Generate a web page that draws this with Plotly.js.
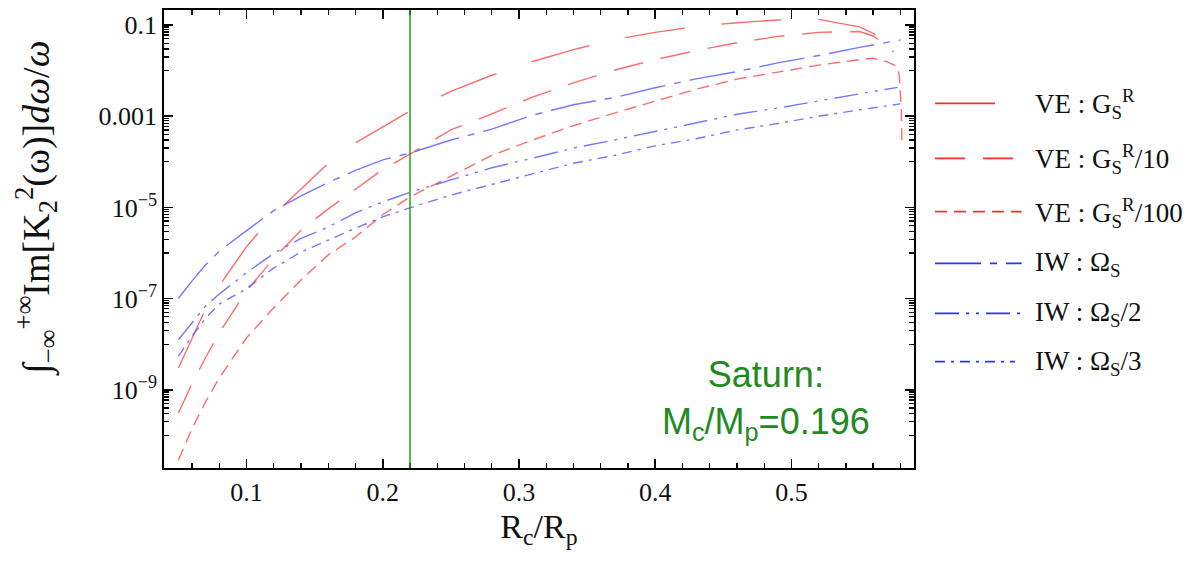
<!DOCTYPE html>
<html>
<head>
<meta charset="utf-8">
<script src="https://cdn.plot.ly/plotly-3.0.1.min.js"></script>
<style>html,body{margin:0;padding:0;background:#fff}#chart{width:1196px;height:564px}</style>
</head>
<body>
<div id="chart"></div>
<script>
// ---------- data ----------
const gridX = [0.05,0.06,0.07,0.08,0.10,0.12,0.14,0.16,0.18,0.20,0.22,0.25,0.28,0.31,0.34,0.37,0.40,0.43,0.46,0.49,0.52,0.55];

const veG_x = gridX.concat([0.56,0.57,0.575]);
const veG_y = [3.0e-9,1.38e-8,6.0e-8,1.9e-7,1.38e-6,6.9e-6,2.6e-5,9.3e-5,2.6e-4,5.9e-4,1.29e-3,3.5e-3,7.9e-3,0.0158,0.0288,0.0479,0.069,0.093,0.112,0.129,0.133,0.091,0.066,0.038,0.0257];

const veG10_x = gridX.concat([0.56,0.57,0.575]);
const veG10_y = [3.1e-10,1.38e-9,5.1e-9,1.78e-8,1.48e-7,7.6e-7,3.16e-6,9.3e-6,2.5e-5,6.8e-5,1.48e-4,5.0e-4,1.12e-3,2.63e-3,5.4e-3,0.0102,0.0174,0.0275,0.0407,0.0562,0.069,0.072,0.0575,0.0363,0.0257];

const veG100_x = gridX.concat([0.56,0.57,0.5776,0.5793,0.5800,0.5807,0.5812]);
const veG100_y = [2.9e-11,1.41e-10,5.5e-10,1.82e-9,1.38e-8,6.3e-8,2.57e-7,9.1e-7,2.24e-6,6.9e-6,1.70e-5,4.8e-5,1.38e-4,3.0e-4,6.2e-4,1.17e-3,2.14e-3,3.9e-3,6.5e-3,9.1e-3,0.0132,0.0174,0.0186,0.0158,0.0123,7.4e-3,3.7e-3,1.35e-3,2.1e-4];

const iwO_x = gridX.concat([0.58]);
const iwO_y = [1.02e-7,2.45e-7,5.5e-7,1.10e-6,3.1e-6,8.5e-6,1.78e-5,3.5e-5,6.5e-5,1.10e-4,1.55e-4,3.0e-4,5.2e-4,1.05e-3,1.78e-3,2.57e-3,4.2e-3,6.6e-3,9.5e-3,0.0148,0.0214,0.0324,0.0468];

const iwO2_x = gridX.concat([0.578]);
const iwO2_y = [1.26e-8,3.0e-8,6.9e-8,1.26e-7,3.7e-7,9.8e-7,2.09e-6,3.7e-6,7.6e-6,1.32e-5,2.14e-5,4.0e-5,7.4e-5,1.20e-4,2.0e-4,3.0e-4,4.6e-4,7.2e-4,1.10e-3,1.51e-3,2.19e-3,3.1e-3,4.3e-3];

const iwO3_x = gridX.concat([0.58]);
const iwO3_y = [5.5e-9,1.51e-8,3.7e-8,7.6e-8,1.66e-7,4.7e-7,1.05e-6,1.95e-6,3.5e-6,6.2e-6,9.8e-6,1.86e-5,3.2e-5,5.4e-5,9.3e-5,1.38e-4,2.24e-4,3.2e-4,5.0e-4,6.9e-4,1.0e-3,1.38e-3,1.86e-3];

const seriesNames = ["VE : G<sub>S</sub><sup>R</sup>","VE : G<sub>S</sub><sup>R</sup>/10","VE : G<sub>S</sub><sup>R</sup>/100","IW : Ω<sub>S</sub>","IW : Ω<sub>S</sub>/2","IW : Ω<sub>S</sub>/3"];

const xTickVals = [0.1,0.2,0.3,0.4,0.5];
const xTickText = ["0.1","0.2","0.3","0.4","0.5"];
const yTickVals = [1e-9,1e-7,1e-5,1e-3,1e-1];
const yTickText = ["10<sup>−9</sup>","10<sup>−7</sup>","10<sup>−5</sup>","0.001","0.1"];

const xTitle = "R<sub>c</sub>/R<sub>p</sub>";
const yTitle = "∫<sub>−∞</sub><sup>+∞</sup>Im[K<sub>2</sub><sup>2</sup>(ω)]<i>dω</i>/<i>ω</i>";

const saturnRc = 0.22;
const saturnText = "Saturn:<br>M<sub>c</sub>/M<sub>p</sub>=0.196";

// ---------- styling ----------
const RED = "rgba(255,70,70,0.8)", BLUE = "rgba(85,85,255,0.8)";
const RED_L = "#ff2c2c", BLUE_L = "#3030ff";
const dashes = ["60px,37px","30px,18px","12px,7px","46px,9px,7px,9px","24px,7px,3px,7px,3px,7px","10px,6px,3px,6px"];
const plotColors = [RED,RED,RED,BLUE,BLUE,BLUE];
const legColors = [RED_L,RED_L,RED_L,BLUE_L,BLUE_L,BLUE_L];
const xs = [veG_x,veG10_x,veG100_x,iwO_x,iwO2_x,iwO3_x];
const ys = [veG_y,veG10_y,veG100_y,iwO_y,iwO2_y,iwO3_y];

const traces = xs.map((x,i)=>({
  x: x, y: ys[i], type:"scatter", mode:"lines", name: seriesNames[i], showlegend:false,
  line:{color:plotColors[i], width:1.4, dash:dashes[i]}, hoverinfo:"skip"
}));

// minor log ticks: 1..9 x 10^d in the decade just below each labelled decade
const minorY = [];
[-2,-4,-6,-8,-10].forEach(d=>{ for(let k=1;k<=9;k++) minorY.push(k*Math.pow(10,d)); });

// plot area in pixels
const L=164, R=914, T=10, B=468, W=1196, H=564;
const px2x = p => (p-L)/(R-L);
const px2y = p => (B-p)/(B-T);
const serif = "Liberation Serif, Times New Roman, serif";

const legRowsPx = [103.3,158.3,211.7,263.3,313.3,361.7];
const legEndPx = [995,1015,1021.7,1021.7,1021.7,1015];
const shapes = [{type:"line", xref:"x", yref:"paper", x0:saturnRc, x1:saturnRc, y0:0, y1:1,
  line:{color:"#1aa51a", width:1.5}}];
const annotations = [
  {xref:"paper", yref:"paper", x:px2x(766), y:px2y(400), xanchor:"center", yanchor:"middle",
   text:saturnText, showarrow:false, align:"center",
   font:{family:"Liberation Sans, Arial, sans-serif", size:36, color:"#1f8a1f"}},
  {xref:"paper", yref:"paper", x:px2x(36), y:px2y(208), xanchor:"center", yanchor:"middle", textangle:-90,
   text:yTitle, showarrow:false, font:{family:serif, size:38, color:"#111"}}
];
legRowsPx.forEach((py,i)=>{
  shapes.push({type:"line", xref:"paper", yref:"paper", x0:px2x(935), x1:px2x(legEndPx[i]), y0:px2y(py), y1:px2y(py),
    line:{color:legColors[i], width:1.8, dash:dashes[i]}});
  annotations.push({xref:"paper", yref:"paper", x:px2x(1033), y:px2y(py+1), xanchor:"left", yanchor:"middle",
    text:seriesNames[i], showarrow:false, font:{family:serif, size:27, color:"#111"}});
});

const layout = {
  width:W, height:H, margin:{l:L, r:W-R, t:T, b:H-B},
  paper_bgcolor:"#fff", plot_bgcolor:"#fff", showlegend:false,
  xaxis:{range:[0.0394,0.590], tickmode:"array", tickvals:xTickVals, ticktext:xTickText,
    ticks:"inside", ticklen:9, tickwidth:1.7, tickcolor:"#000",
    minor:{tick0:0, dtick:0.02, ticks:"inside", ticklen:5, tickwidth:1.3, tickcolor:"#000"},
    showline:true, linecolor:"#000", linewidth:1.7, mirror:"allticks", showgrid:false, zeroline:false,
    tickfont:{family:serif, size:26, color:"#111"},
    title:{text:xTitle, font:{family:serif, size:34, color:"#111"}, standoff:8}},
  yaxis:{type:"log", range:[-10.715,-0.671], tickmode:"array", tickvals:yTickVals, ticktext:yTickText,
    ticks:"inside", ticklen:9, tickwidth:1.7, tickcolor:"#000",
    minor:{tickmode:"array", tickvals:minorY, ticks:"inside", ticklen:5, tickwidth:1.3, tickcolor:"#000"},
    showline:true, linecolor:"#000", linewidth:1.7, mirror:"allticks", showgrid:false, zeroline:false,
    tickfont:{family:serif, size:26, color:"#111"}},
  shapes:shapes, annotations:annotations
};
Plotly.newPlot("chart", traces, layout, {staticPlot:true, displayModeBar:false});
</script>
</body>
</html>
